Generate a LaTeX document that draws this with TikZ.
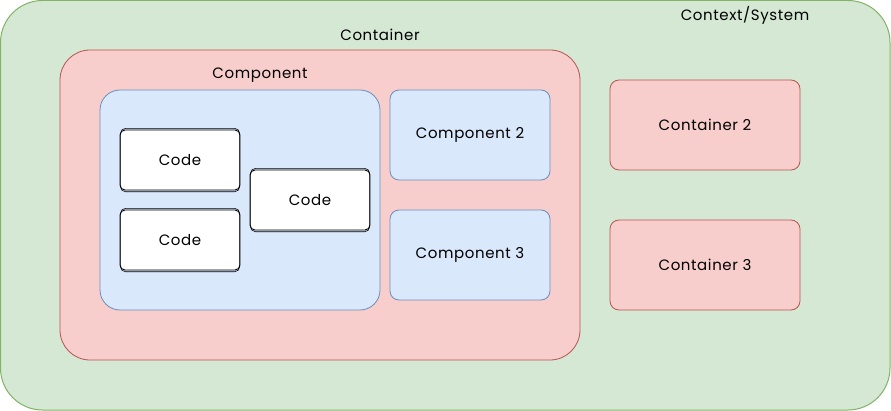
\documentclass[tikz,border=0pt]{standalone}
\usepackage{fontspec}
\setmainfont{Poppins}[LetterSpace=4]
\usetikzlibrary{positioning}
\definecolor{gfill}{HTML}{D5E8D4}\definecolor{gline}{HTML}{82B366}
\definecolor{rfill}{HTML}{F8CECC}\definecolor{rline}{HTML}{B85450}
\definecolor{bfill}{HTML}{DAE8FC}\definecolor{bline}{HTML}{6C8EBF}
\tikzset{
  lbl/.style={font=\fontsize{15}{17}\selectfont, text=black},
  greenbox/.style={draw=gline, fill=gfill, line width=1pt, rounded corners=42pt},
  redbox/.style={draw=rline, fill=rfill, line width=0.8pt},
  bluebox/.style={draw=bline, fill=bfill, line width=0.8pt},
  codebox/.style={draw=black, fill=white, line width=0.9pt, rounded corners=5pt, minimum width=120pt, minimum height=60pt, inner sep=0pt, lbl},
  sketch/.style={draw=black, line width=0.6pt, rounded corners=5pt},
}
\begin{document}
\begin{tikzpicture}[x=1pt,y=-1pt]
\useasboundingbox (0,0) rectangle (891,411);
% outer context
\draw[greenbox] (0.5,0.5) rectangle (890,410);
\node[lbl] (ctx) at (745,15) {Context/System};
% container
\draw[redbox, rounded corners=30pt] (60,50) rectangle (580,360);
\node[lbl] (cont) at (380,35) {Container};
% component
\draw[bluebox, rounded corners=20pt] (100,90) rectangle (380,310);
\node[lbl] (comp) at (260,75) {Component};
% components 2 and 3
\node[bluebox, rounded corners=9pt, minimum width=160pt, minimum height=90pt, inner sep=0pt, lbl] (c2) at (470,135) {Component 2};
\node[bluebox, rounded corners=9pt, minimum width=160pt, minimum height=90pt, inner sep=0pt, lbl] (c3) at (470,255) {Component 3};
% containers 2 and 3
\node[redbox, rounded corners=9pt, minimum width=190pt, minimum height=90pt, inner sep=0pt, lbl] (k2) at (705,125) {Container 2};
\node[redbox, rounded corners=9pt, minimum width=190pt, minimum height=90pt, inner sep=0pt, lbl] (k3) at (705,265) {Container 3};
% code boxes
\node[codebox] (code1) at (180,160) {Code};
\node[codebox] (code2) at (180,240) {Code};
\node[codebox] (code3) at (310,200) {Code};
\foreach \n in {code1,code2,code3}{
  \draw[sketch] ([shift={(1,-1.2)}]\n.north west) rectangle ([shift={(-0.8,1.3)}]\n.south east);
}
\end{tikzpicture}
\end{document}
